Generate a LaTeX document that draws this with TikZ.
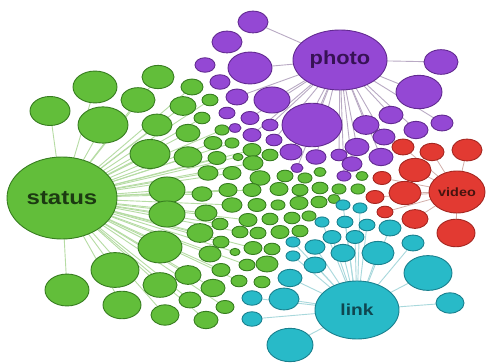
\documentclass[tikz,border=0pt]{standalone}
\usepackage{fontspec}
\usepackage{graphicx}
\setmainfont{Liberation Sans}
\usetikzlibrary{shapes.geometric,backgrounds}
\definecolor{gfill}{RGB}{98,190,58}
\definecolor{gdraw}{RGB}{55,125,32}
\definecolor{pfill}{RGB}{148,72,212}
\definecolor{pdraw}{RGB}{98,42,145}
\definecolor{rfill}{RGB}{226,58,50}
\definecolor{rdraw}{RGB}{165,38,32}
\definecolor{tfill}{RGB}{40,186,200}
\definecolor{tdraw}{RGB}{25,128,142}
\definecolor{gedge}{RGB}{182,220,164}
\definecolor{pedge}{RGB}{185,170,196}
\definecolor{redge}{RGB}{210,175,170}
\definecolor{tedge}{RGB}{168,216,220}
\definecolor{gtext}{RGB}{28,58,18}
\definecolor{ptext}{RGB}{55,18,85}
\definecolor{rtext}{RGB}{70,20,15}
\definecolor{ttext}{RGB}{15,70,80}
\tikzset{
  bub/.style={ellipse, inner sep=0pt, line width=0.9pt},
  gb/.style={bub, fill=gfill, draw=gdraw},
  pb/.style={bub, fill=pfill, draw=pdraw},
  rb/.style={bub, fill=rfill, draw=rdraw},
  tb/.style={bub, fill=tfill, draw=tdraw},
  gl/.style={draw=gedge, line width=0.9pt},
  pl/.style={draw=pedge, line width=0.9pt},
  rl/.style={draw=redge, line width=0.8pt},
  tl/.style={draw=tedge, line width=0.9pt},
  hubtext/.style={font=\bfseries}
}
\def\greenlist{50/111/20, 95/87/22, 103/125/25, 158/77/16, 138/100/17, 157/125/15, 150/154/20, 192/87/11, 183/106/13, 188/133/12, 188/157/14, 202/118/8, 210/100/8, 213/143/9, 222/130/7, 232/143/7, 208/173/10, 232/173/9, 167/190/18, 167/214/18, 160/247/22, 115/270/24, 67/290/22, 122/305/19, 160/285/17, 188/275/13, 165/315/14, 190/300/11, 206/320/12, 213/288/12, 202/194/10, 228/190/9, 206/213/11, 232/205/10, 200/233/13, 220/224/8, 221/242/8, 210/254/11, 235/252/5, 221/270/9, 225/307/9, 239/281/8, 217/158/9, 238/157/5, 252/150/9, 253/163/10, 270/155/8, 260/178/10, 285/176/8, 305/178/7, 320/172/6, 362/176/6, 252/190/9, 279/189/9, 300/190/8, 320/188/8, 339/189/7, 358/189/7, 257/205/9, 278/205/7, 299/203/9, 319/202/8, 334/199/6, 248/220/9, 270/219/8, 292/218/8, 309/216/7, 240/232/8, 258/233/8, 280/232/9, 300/231/8, 253/248/9, 272/249/8, 267/264/11, 247/265/8, 262/282/8}
\def\purplelist{253/22/15, 227/42/15, 250/68/22, 205/65/10, 220/82/10, 237/97/11, 272/100/18, 227/113/8, 250/118/9, 270/125/8, 235/128/6, 252/135/9, 274/140/8, 291/152/11, 297/168/6, 316/157/10, 312/125/30, 441/62/17, 419/92/23, 366/125/13, 391/115/12, 416/130/12, 442/123/11, 357/147/12, 384/137/11, 381/157/12, 339/155/8, 352/164/10, 344/176/7}
\def\redlist{403/147/11, 432/152/12, 467/150/15, 415/170/16, 382/178/9, 405/193/16, 375/197/9, 385/212/8, 415/219/13, 456/233/19}
\def\teallist{343/205/7, 360/208/7, 322/222/7, 345/222/8, 367/225/8, 390/228/11, 332/237/9, 355/237/9, 293/242/7, 315/247/10, 413/243/11, 343/253/12, 378/253/16, 293/256/7, 315/265/11, 428/273/24, 290/278/12, 284/299/15, 450/303/14, 290/345/23, 252/298/10, 252/319/10}
\begin{document}
\begin{tikzpicture}[x=1pt,y=-1pt]
\useasboundingbox (0,0) rectangle (488,363);
% hubs
\node[gb, minimum width=110pt, minimum height=82pt, text=gtext, hubtext] (status) at (62,198) {\fontsize{20}{20}\selectfont\scalebox{1.2}[1]{status}};
\node[pb, minimum width=94pt, minimum height=60pt, text=ptext, hubtext] (photo) at (340,60) {\fontsize{19}{19}\selectfont\scalebox{1.15}[1]{photo}};
\node[rb, minimum width=56pt, minimum height=42pt, text=rtext, hubtext] (video) at (457,192) {\fontsize{12}{12}\selectfont\scalebox{1.2}[1]{video}};
\node[tb, minimum width=84pt, minimum height=58pt, text=ttext, hubtext] (link) at (357,310) {\fontsize{16}{16}\selectfont\scalebox{1.2}[1]{link}};
% member nodes
\foreach \x/\y/\r [count=\i] in \greenlist {
  \node[gb, minimum width={2*\r*1pt}, minimum height={1.45*\r*1pt}] (g\i) at (\x,\y) {};
}
\foreach \x/\y/\r [count=\i] in \purplelist {
  \node[pb, minimum width={2*\r*1pt}, minimum height={1.45*\r*1pt}] (p\i) at (\x,\y) {};
}
\foreach \x/\y/\r [count=\i] in \redlist {
  \node[rb, minimum width={2*\r*1pt}, minimum height={1.45*\r*1pt}] (r\i) at (\x,\y) {};
}
\foreach \x/\y/\r [count=\i] in \teallist {
  \node[tb, minimum width={2*\r*1pt}, minimum height={1.45*\r*1pt}] (t\i) at (\x,\y) {};
}
% connectors
\begin{scope}[on background layer]
\fill[white] (0,0) rectangle (488,363);
\foreach \x/\y/\r [count=\i] in \greenlist { \ifdim \x pt<255pt \draw[gl] (status.center) -- (g\i.center); \fi }
\foreach \x/\y/\r [count=\i] in \purplelist { \ifdim \x pt>236pt \draw[pl] (photo.center) -- (p\i.center); \fi }
\foreach \x/\y/\r [count=\i] in \redlist { \draw[rl] (video.center) -- (r\i.center); }
\foreach \x/\y/\r [count=\i] in \teallist { \draw[tl] (link.center) -- (t\i.center); }
\end{scope}
\end{tikzpicture}
\end{document}
